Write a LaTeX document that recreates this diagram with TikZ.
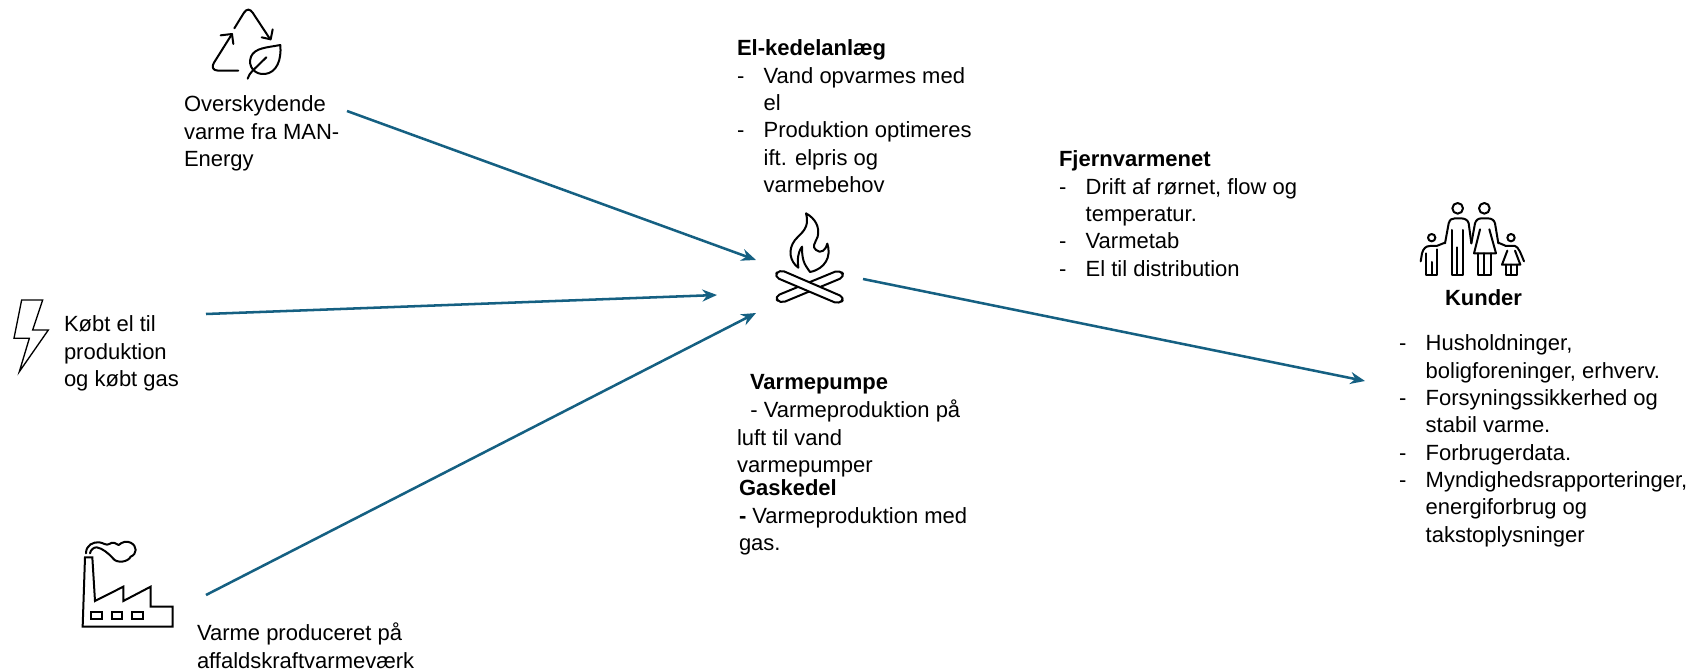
\documentclass[tikz,border=0pt]{standalone}
\usepackage{fontspec}
\setmainfont{Liberation Sans}
\definecolor{arrowblue}{HTML}{156082}
\newcommand{\dashitem}[1]{\makebox[\dashw][l]{-}#1}
\newcommand{\contline}[1]{\hspace*{\dashw}#1}
\newlength{\dashw}
\usetikzlibrary{arrows.meta}
\tikzset{
  txt/.style={anchor=north west,inner sep=0pt,outer sep=0pt,align=left,text=black,font=\fontsize{16.5}{20.5}\selectfont},
  conn/.style={draw=arrowblue,line width=1.9pt,-{Stealth[length=11pt,width=9pt]}},
  icon/.style={draw=black,line width=1.5pt,line join=round,line cap=round,fill=none},
}
\begin{document}
\begin{tikzpicture}[x=0.75pt,y=-0.75pt]
\useasboundingbox (0,0) rectangle (1702,670);
% connector ends
\coordinate (a1s) at (347,111); \coordinate (a1e) at (756,260);
\coordinate (a2s) at (206,314); \coordinate (a2e) at (717,295);
\coordinate (a3s) at (206,595); \coordinate (a3e) at (756,313);
\coordinate (a4s) at (863,279); \coordinate (a4e) at (1365,381);
\draw[conn] (a1s) -- (a1e);
\draw[conn] (a2s) -- (a2e);
\draw[conn] (a3s) -- (a3e);
\draw[conn] (a4s) -- (a4e);
% texts
\setlength{\dashw}{20pt}
\node[txt] (over) at (184,96) {Overskydende\\varme fra MAN-\\Energy};
\node[txt] (koeb) at (64,316) {Købt el til\\produktion\\og købt gas};
\node[txt] (affald) at (197,623) {Varme produceret på\\affaldskraftvarmeværk};
\node[txt] (elk) at (737,40) {\textbf{El-kedelanlæg}\\\dashitem{Vand opvarmes med}\\\contline{el}\\\dashitem{Produktion optimeres}\\\contline{ift. elpris og}\\\contline{varmebehov}};
\node[txt] (vp) at (750,374) {\textbf{Varmepumpe}};
\node[txt] (vp2) at (737,400) {\hspace*{10pt}- Varmeproduktion på\\luft til vand\\varmepumper};
\node[txt] (gas) at (739,480) {\textbf{Gaskedel}\\\textbf{-} Varmeproduktion med\\gas.};
\node[txt] (fjern) at (1059,151) {\textbf{Fjernvarmenet}\\\dashitem{Drift af rørnet, flow og}\\\contline{temperatur.}\\\dashitem{Varmetab}\\\dashitem{El til distribution}};
\node[txt] (kund) at (1445,290) {\textbf{Kunder}};
\node[txt] (kl) at (1399,335) {\dashitem{Husholdninger,}\\\contline{boligforeninger, erhverv.}\\\dashitem{Forsyningssikkerhed og}\\\contline{stabil varme.}\\\dashitem{Forbrugerdata.}\\\dashitem{Myndighedsrapporteringer,}\\\contline{energiforbrug og}\\\contline{takstoplysninger}};
% recycle icon
\begin{scope}[shift={(170,0)},scale=1/3]
\draw[icon] (193,85) -- (222,38) .. controls (230,26) and (240,26) .. (248,38) -- (300,117);
\draw[icon] (275,112) -- (302,118) -- (308,88);
\draw[icon] (205,212) -- (145,212) .. controls (128,212) and (124,200) .. (132,188) -- (186,102);
\draw[icon] (152,106) -- (186,102) -- (190,132);
\draw[icon] (331,135) .. controls (290,143) and (255,143) .. (243,170) .. controls (232,200) and (255,225) .. (285,222) .. controls (320,218) and (335,180) .. (331,135) -- cycle;
\draw[icon] (289,172) -- (248,212) .. controls (240,220) and (236,226) .. (233,236);
\end{scope}
% fire icon
\begin{scope}[shift={(740,195)},scale=1/3]
\draw[icon] (198,55) .. controls (225,70) and (240,95) .. (233,125) .. controls (225,145) and (215,155) .. (228,165) .. controls (242,178) and (258,165) .. (262,146) .. controls (275,185) and (255,222) .. (210,231) .. controls (200,215) and (185,205) .. (186,155) .. controls (172,175) and (172,195) .. (175,218) .. controls (150,200) and (142,165) .. (165,135) .. controls (185,112) and (210,100) .. (198,55) -- cycle;
\draw[icon,fill=white,rounded corners=4pt] (103,305) -- (120,326) -- (315,245) -- (300,224) -- cycle;
\draw[icon,fill=white,rounded corners=4pt] (118,223) -- (102,245) -- (298,328) -- (315,308) -- cycle;
\end{scope}
% family icon
\begin{scope}[shift={(1400,190)},scale=1/3]
\draw[icon] (173,55) circle[radius=16];
\draw[icon] (253,55) circle[radius=16];
\draw[icon] (95,143) circle[radius=11];
\draw[icon] (333,143) circle[radius=11];
% man
\draw[icon] (135,160) -- (146,100) .. controls (150,88) and (155,85) .. (165,85) -- (182,85) .. controls (195,85) and (203,90) .. (206,100) -- (214,160);
\draw[icon] (155,120) -- (155,255) -- (190,255) -- (190,120);
\draw[icon] (172,172) -- (172,255);
% woman
\draw[icon] (214,160) -- (225,100) .. controls (228,90) and (235,85) .. (245,85) -- (262,85) .. controls (275,85) and (282,90) .. (285,100) -- (295,160);
\draw[icon] (240,118) -- (222,190) -- (288,190) -- (268,118);
\draw[icon] (235,190) -- (235,255) -- (272,255) -- (272,190);
\draw[icon] (253,190) -- (253,255);
% boy
\draw[icon] (62,214) -- (66,190) .. controls (70,175) and (78,168) .. (90,168) -- (110,168) -- (135,158);
\draw[icon] (78,190) -- (78,255) -- (110,255) -- (110,178);
\draw[icon] (95,216) -- (95,255);
% girl
\draw[icon] (295,158) -- (318,168) -- (345,168) .. controls (355,170) and (362,190) .. (372,214);
\draw[icon] (322,182) -- (306,224) -- (361,224) -- (345,182);
\draw[icon] (318,224) -- (318,255) -- (350,255) -- (350,224);
\draw[icon] (333,224) -- (333,255);
\end{scope}
% factory icon
\begin{scope}[shift={(60,500)},scale=1/3]
\draw[icon,line cap=butt,line join=miter] (68,380) -- (338,380) -- (338,320) -- (272,320) -- (272,260) -- (190,303) -- (190,260) -- (105,303) -- (97,172) -- (75,172) -- cycle;
\foreach \wx in {93,155,217}{\draw[icon,line join=miter] (\wx,335) rectangle ++(32,22);}
\draw[icon] (78,160) .. controls (78,135) and (100,125) .. (118,127) .. controls (130,128) and (138,138) .. (148,132) .. controls (158,124) and (168,130) .. (176,135) .. controls (186,126) and (200,122) .. (212,128) .. controls (232,138) and (232,162) .. (212,170) .. controls (205,186) and (170,192) .. (158,174) .. controls (145,160) and (128,145) .. (110,142) .. controls (100,142) and (92,150) .. (90,160);
\end{scope}
% bolt icon
\begin{scope}[shift={(0,285)},scale=1/3]
\draw[icon,line width=1pt,line join=miter] (65,45) -- (128,45) -- (98,135) -- (145,135) -- (58,260) -- (88,160) -- (42,160) -- cycle;
\end{scope}
\end{tikzpicture}
\end{document}
